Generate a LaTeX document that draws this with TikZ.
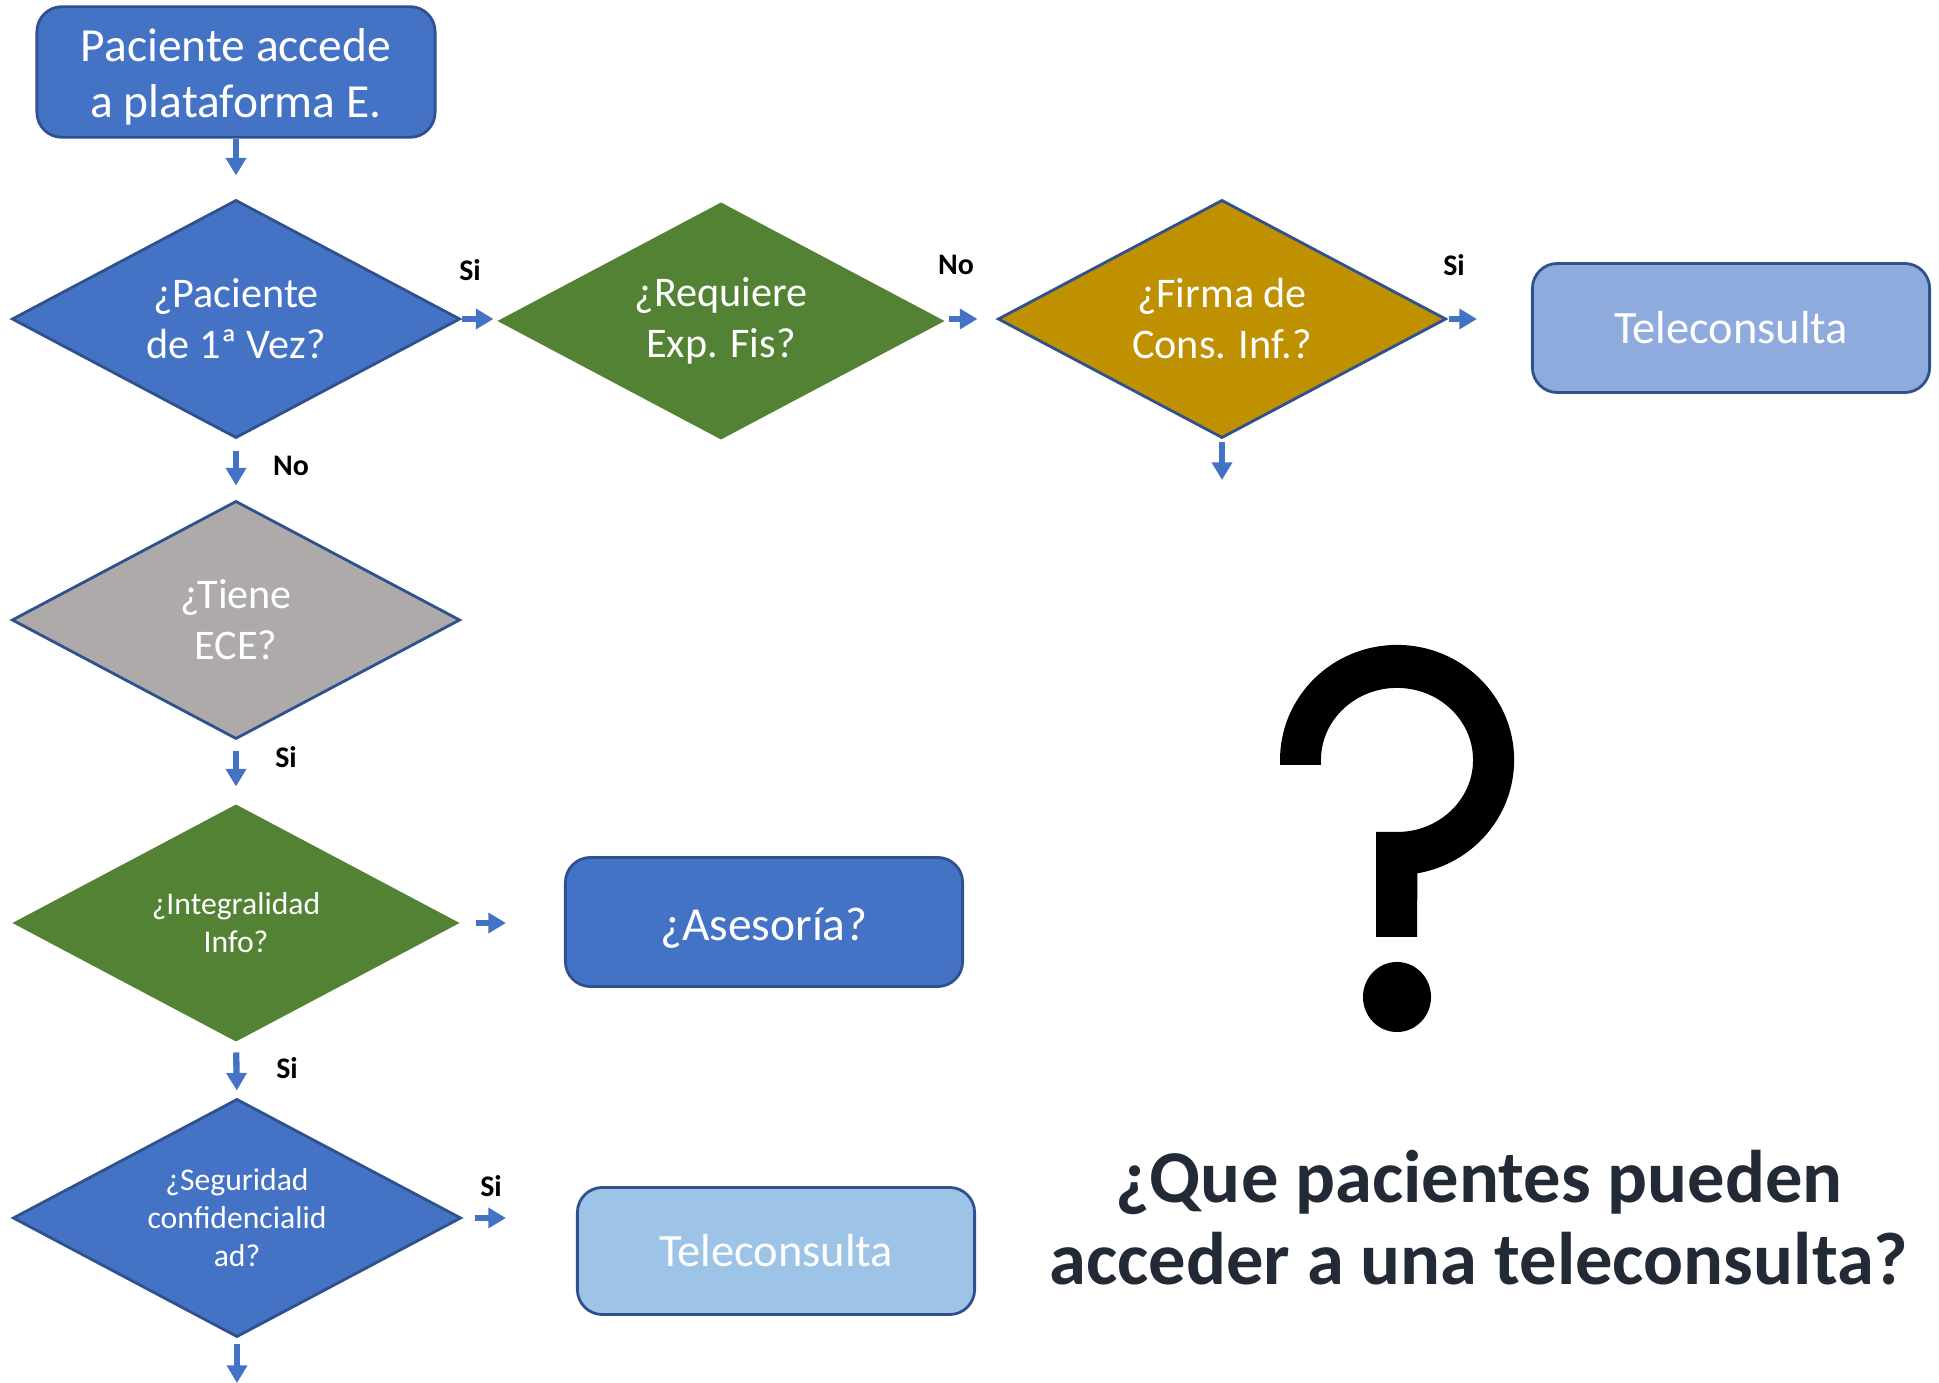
\documentclass[tikz,border=0pt]{standalone}
\usepackage{fontspec}
\setmainfont{Carlito}
\usetikzlibrary{shapes.geometric,arrows.meta}
\definecolor{ofblue}{HTML}{4472C4}
\definecolor{ofline}{HTML}{2F528F}
\definecolor{ofgreen}{HTML}{548235}
\definecolor{ofgold}{HTML}{BF9000}
\definecolor{ofgray}{HTML}{AEAAAA}
\definecolor{oflight}{HTML}{8FAADC}
\definecolor{ofsky}{HTML}{9DC3E6}
\definecolor{ofdark}{HTML}{222A35}

\tikzset{
    decision/.style={diamond, aspect=1.9, draw=ofline, line width=0.8pt, text=white, align=center,
        minimum width=4.48cm, minimum height=2.38cm, inner sep=0pt},
    blockbox/.style={rectangle, rounded corners=0.25cm, draw=ofline, line width=0.8pt, text=white,
        align=center, minimum width=3.97cm, minimum height=1.29cm},
    flow/.style={ofblue, line width=1.8pt, -{Triangle[width=5.6pt,length=5pt]}},
    answer/.style={font=\fontsize{8.5}{10}\selectfont\bfseries, inner sep=0pt}
}

\begin{document}
\begin{tikzpicture}[x=0.01cm, y=-0.01cm]
    \useasboundingbox (0,0) rectangle (1939,1383);

    % first box
    \node [blockbox, fill=ofblue, minimum width=3.98cm, minimum height=1.28cm,
        font=\fontsize{13.5}{16}\selectfont] (acceso) at (236,72) {\rule{0pt}{12.3pt}Paciente accede\\a plataforma E.};

    % top row of decisions
    \node [decision, fill=ofblue, font=\fontsize{12}{14.5}\selectfont] (primera) at (236,319) {¿Paciente\\de 1ª Vez?};
    \node [decision, fill=ofgreen, draw=none, font=\fontsize{12}{14.5}\selectfont] (explora) at (721,321) {¿Requiere\\Exp. Fis?};
    \node [decision, fill=ofgold, font=\fontsize{12}{14.5}\selectfont] (firma) at (1222,319) {¿Firma de\\Cons. Inf.?};
    \node [blockbox, fill=oflight, font=\fontsize{13.2}{16}\selectfont] (tele1) at (1731,328) {Teleconsulta};

    % left column of decisions
    \node [decision, fill=ofgray, font=\fontsize{12}{14.5}\selectfont] (ece) at (236,620) {¿Tiene\\ECE?};
    \node [decision, fill=ofgreen, draw=none, font=\fontsize{9}{10.8}\selectfont] (integral) at (236,923) {¿Integralidad\\Info?};
    \node [blockbox, fill=ofblue, font=\fontsize{13.5}{16}\selectfont] (asesoria) at (764,922) {\rule{0pt}{12.9pt}¿Asesoría?};
    \node [decision, fill=ofblue, font=\fontsize{9}{10.8}\selectfont] (segura) at (237,1218) {¿Seguridad\\confidencialid\\ad?};
    \node [blockbox, fill=ofsky, minimum height=1.27cm, font=\fontsize{13.2}{16}\selectfont] (tele2) at (776,1251) {Teleconsulta};

    % loose ends
    \coordinate (finfirma) at (1222,480);
    \coordinate (finsegura) at (237,1383);

    % connectors
    \draw [flow, shorten >=0.23cm] (acceso.south) -- (primera.north);
    \draw [flow, shorten >=0.02cm] (primera.east) -- (primera.east -| explora.west);
    \draw [flow, shorten <=0.02cm, shorten >=0.19cm] (firma.west -| explora.east) -- (firma.west);
    \draw [flow, shorten <=0.01cm, shorten >=0.54cm] (firma.east) -- (firma.east -| tele1.west);
    \draw [flow, shorten <=0.03cm] (firma.south) -- (finfirma);
    \draw [flow, shorten <=0.12cm, shorten >=0.14cm] (primera.south) -- (ece.north);
    \draw [flow, shorten <=0.11cm, shorten >=0.16cm] (ece.south) -- (integral.north);
    \draw [flow, shorten <=0.14cm, shorten >=0.58cm] (integral.east) -- (integral.east -| asesoria.west);
    \draw [flow, shorten <=0.09cm, shorten >=0.07cm] (integral.south) -- (segura.north);
    \draw [flow, shorten <=0.12cm, shorten >=0.70cm] (segura.east) -- (segura.east -| tele2.west);
    \draw [flow, shorten <=0.06cm] (segura.south) -- (finsegura);

    % answers
    \node [answer] (si1) at (470,270) {Si};
    \node [answer] (no1) at (956,265) {No};
    \node [answer] (si2) at (1454,265) {Si};
    \node [answer] (no2) at (291,466) {No};
    \node [answer] (si3) at (286,757) {Si};
    \node [answer] (si4) at (287,1068) {Si};
    \node [answer] (si5) at (491,1186) {Si};

    % big question mark drawn as a shape
    \fill [black] (1280,765) -- (1280,760) arc [start angle=180, end angle=-80, x radius=1.17cm, y radius=1.15cm]
        -- (1417,937) -- (1376,937) -- (1376,832) -- (1397,832)
        arc [start angle=-90, end angle=180, x radius=0.76cm, y radius=0.72cm] -- (1321,765) -- cycle;
    \fill [black] (1397,997) ellipse [x radius=0.34cm, y radius=0.35cm];

    % question text
    \node [font=\fontsize{21.2}{23.3}\selectfont\bfseries, text=ofdark, align=center] (pregunta) at (1479,1218)
        {¿Que pacientes pueden\\acceder a una teleconsulta?};
\end{tikzpicture}
\end{document}
